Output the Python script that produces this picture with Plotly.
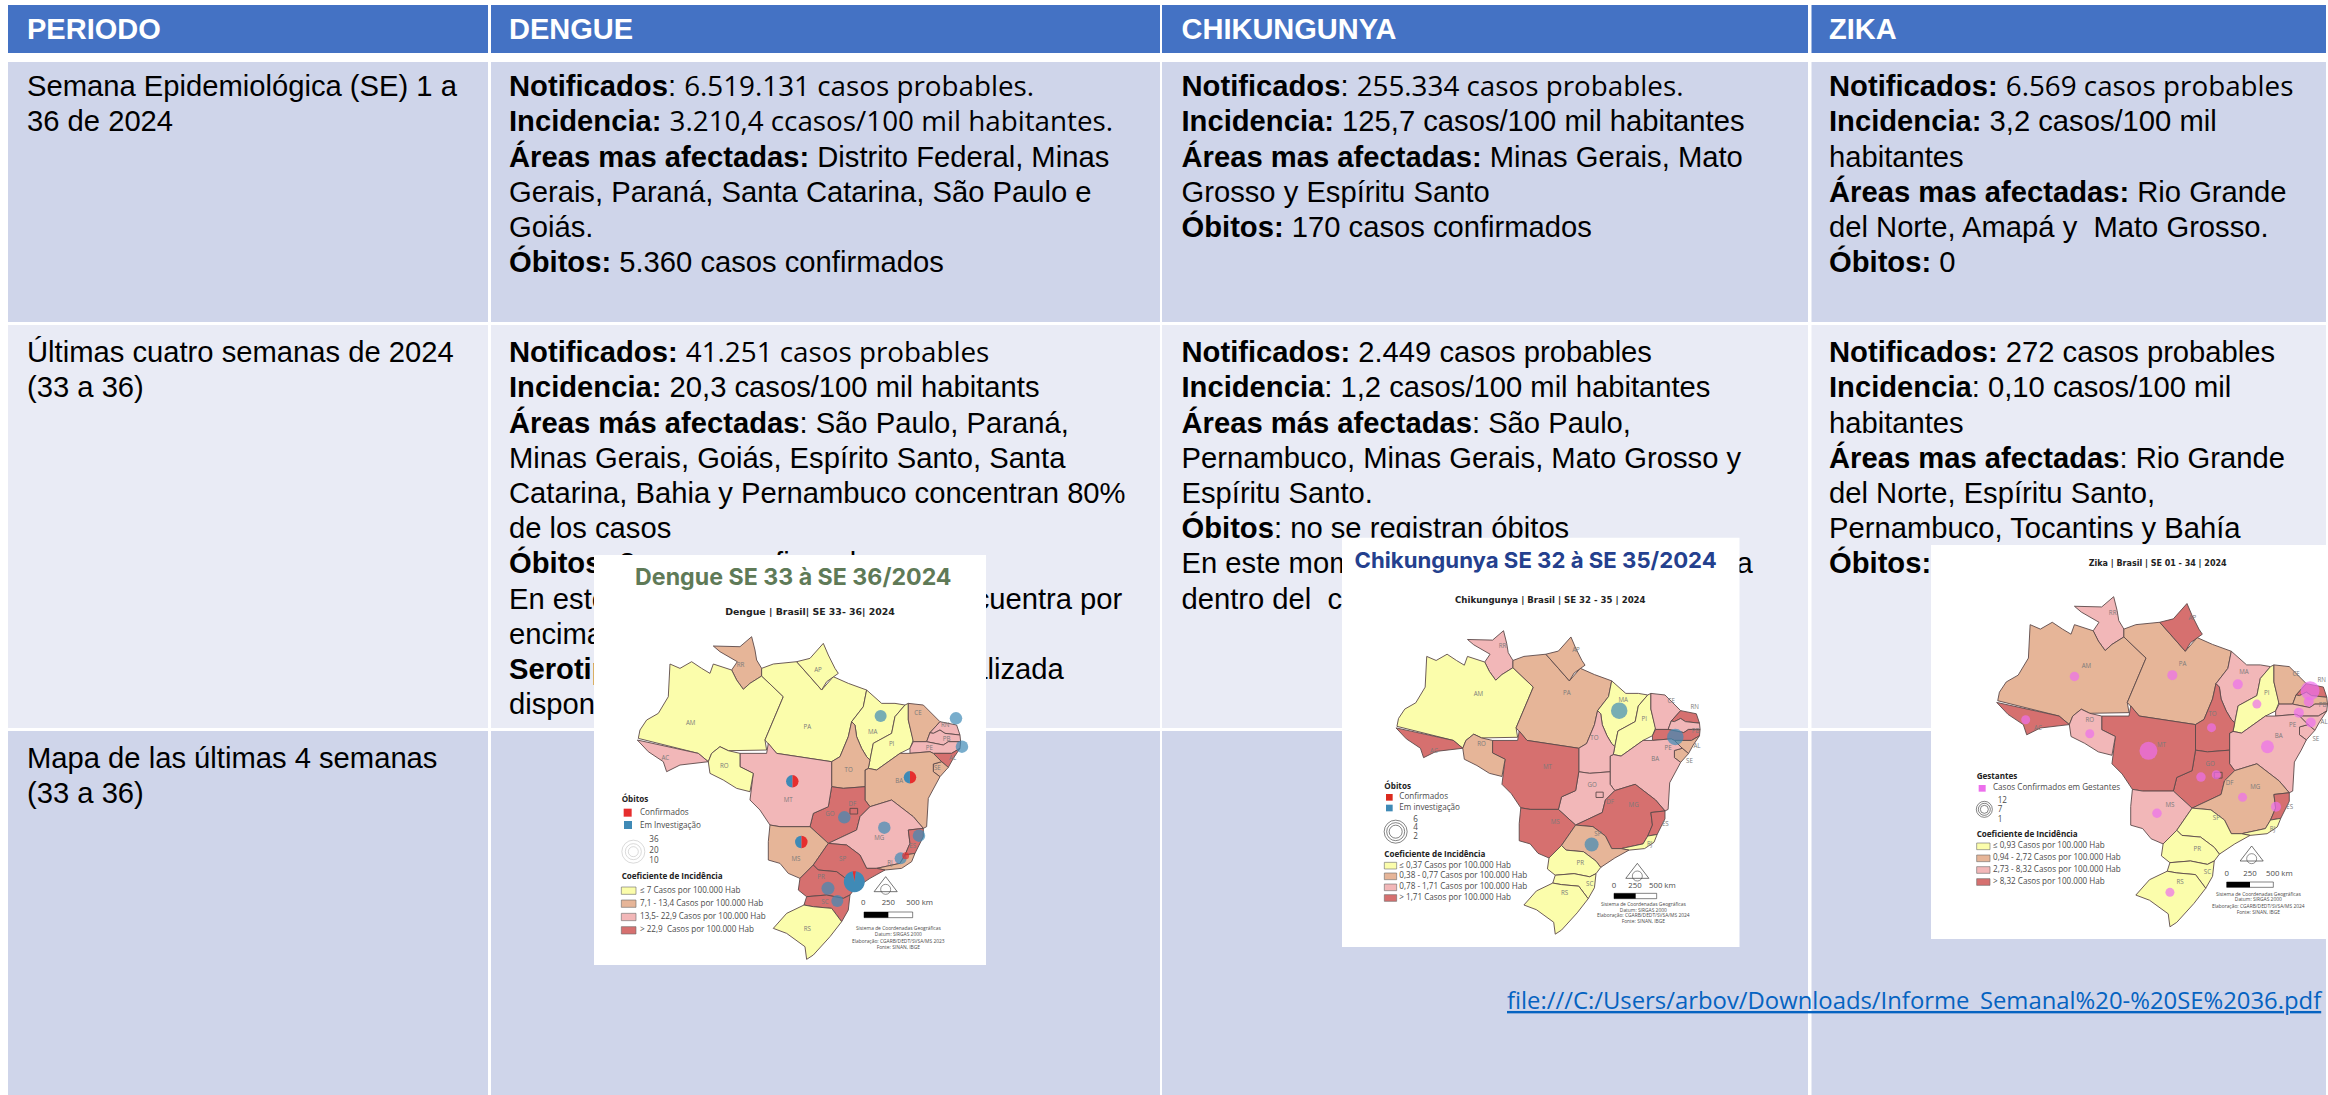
import plotly.graph_objects as go

W, H = 2328, 1095

# ---------- table ----------
COL_EDGES = [(8, 488), (491, 1160), (1162, 1808), (1811.5, 2326)]
COL_TEXT_X = [27, 509, 1181.5, 1829]
ROW_EDGES = [(5, 53), (62, 322), (325, 728), (731, 1095)]
ROW_COLORS = ["#4472C4", "#CFD5EA", "#E9EBF5", "#CFD5EA"]
ROW_FIRST_LINE = [32, 89, 355, 761]
LINE_PITCH = 35.2
BODY_SIZE = 29.2
HEAD_SIZE = 29

HEADERS = ["PERIODO", "DENGUE", "CHIKUNGUNYA", "ZIKA"]
NUM = "<span style=\"font-family:'Open Sans';font-size:27.8px\">%s</span>"

PERIOD_ROWS = [
    ["Semana Epidemiológica (SE) 1 a", "36 de 2024"],
    ["Últimas cuatro semanas de 2024", "(33 a 36)"],
    ["Mapa de las últimas 4 semanas", "(33 a 36)"],
]
DENGUE_ROWS = [
    ["<b>Notificados</b>: " + NUM % "6.519.131 casos probables.",
     "<b>Incidencia:</b> " + NUM % "3.210,4 ccasos/100 mil habitantes.",
     "<b>Áreas mas afectadas:</b> Distrito Federal, Minas",
     "Gerais, Paraná, Santa Catarina, São Paulo e",
     "Goiás.",
     "<b>Óbitos:</b> 5.360 casos confirmados"],
    ["<b>Notificados:</b> " + NUM % "41.251 casos probables",
     "<b>Incidencia:</b> 20,3 casos/100 mil habitants",
     "<b>Áreas más afectadas</b>: São Paulo, Paraná,",
     "Minas Gerais, Goiás, Espírito Santo, Santa",
     "Catarina, Bahia y Pernambuco concentran 80%",
     "de los casos",
     "<b>Óbitos:</b> 8 casos confirmados",
     "En este momento el indicador se encuentra por",
     "encima del canal endémico",
     "<b>Serotipos:</b> no hay información actualizada",
     "disponible"],
    [],
]
CHIK_ROWS = [
    ["<b>Notificados</b>: " + NUM % "255.334 casos probables.",
     "<b>Incidencia:</b> 125,7 casos/100 mil habitantes",
     "<b>Áreas mas afectadas:</b> Minas Gerais, Mato",
     "Grosso y Espíritu Santo",
     "<b>Óbitos:</b> 170 casos confirmados"],
    ["<b>Notificados:</b> 2.449 casos probables",
     "<b>Incidencia</b>: 1,2 casos/100 mil habitantes",
     "<b>Áreas más afectadas</b>: São Paulo,",
     "Pernambuco, Minas Gerais, Mato Grosso y",
     "Espíritu Santo.",
     "<b>Óbitos</b>: no se registran óbitos",
     "En este momento, el indicador se encuentra",
     "dentro del  canal endémico"],
    [],
]
ZIKA_ROWS = [
    ["<b>Notificados:</b> " + NUM % "6.569 casos probables",
     "<b>Incidencia:</b> 3,2 casos/100 mil",
     "habitantes",
     "<b>Áreas mas afectadas:</b> Rio Grande",
     "del Norte, Amapá y  Mato Grosso.",
     "<b>Óbitos:</b> 0"],
    ["<b>Notificados:</b> 272 casos probables",
     "<b>Incidencia</b>: 0,10 casos/100 mil",
     "habitantes",
     "<b>Áreas mas afectadas</b>: Rio Grande",
     "del Norte, Espíritu Santo,",
     "Pernambuco, Tocantins y Bahía",
     "<b>Óbitos:</b> 0"],
    [],
]
LINK_TEXT = "file:///C:/Users/arbov/Downloads/Informe_Semanal%20-%20SE%2036.pdf"

# ---------- maps: state outlines on a common map grid ----------
STATES = {
    "RR": [(515,290),(525,330),(530,360),(545,385),(545,408),(510,430),(490,448),(470,420),(455,390),(472,365),(420,335),(400,318),(480,320)],
    "AM": [(175,595),(180,570),(200,540),(235,520),(265,470),(270,372),(300,385),(335,365),(365,385),(390,400),(400,372),(455,390),(470,420),(490,448),(510,430),(545,408),(610,470),(555,600),(560,630),(445,632),(420,620),(395,640),(385,665),(355,640)],
    "PA": [(545,385),(580,372),(650,365),(690,410),(725,450),(760,410),(805,430),(860,450),(850,500),(815,545),(805,590),(780,650),(755,665),(590,640),(565,610),(555,600),(610,470),(545,408)],
    "AP": [(650,365),(690,355),(730,310),(745,345),(765,385),(775,400),(740,425),(725,450),(690,410)],
    "MA": [(860,450),(905,490),(945,490),(975,495),(945,530),(935,580),(880,610),(870,660),(860,650),(845,625),(830,590),(825,555),(815,545),(850,500)],
    "PI": [(975,495),(985,490),(985,540),(1000,600),(990,625),(960,640),(890,690),(865,685),(870,660),(880,610),(935,580),(945,530)],
    "CE": [(985,490),(1030,495),(1080,545),(1050,578),(1040,605),(1000,605),(985,540)],
    "RN": [(1080,545),(1130,555),(1140,585),(1095,580),(1080,570),(1060,580),(1050,578)],
    "PB": [(1060,580),(1080,570),(1095,580),(1140,585),(1142,605),(1105,605),(1090,615),(1045,605),(1040,605),(1050,578)],
    "PE": [(1000,605),(1040,605),(1090,615),(1105,605),(1142,605),(1140,625),(1115,640),(1085,640),(1060,640),(1050,635),(990,640),(990,625)],
    "AL": [(1060,640),(1085,640),(1115,640),(1140,625),(1120,655),(1105,682),(1085,665)],
    "SE": [(1060,672),(1085,665),(1105,682),(1080,710),(1060,695)],
    "BA": [(855,690),(865,685),(890,690),(960,640),(990,640),(1050,635),(1060,640),(1085,665),(1060,672),(1060,695),(1080,710),(1065,740),(1045,775),(1040,860),(1030,865),(1000,830),(935,780),(870,800),(855,780),(855,740)],
    "TO": [(815,545),(825,555),(830,590),(845,625),(860,650),(870,660),(865,685),(855,690),(855,740),(790,745),(755,740),(755,665),(780,650),(805,590)],
    "GO": [(755,740),(790,745),(855,740),(855,780),(870,800),(840,830),(830,870),(745,910),(690,860),(700,820),(745,800)],
    "MT": [(480,640),(560,640),(565,610),(590,640),(755,665),(755,740),(745,800),(700,820),(690,860),(600,860),(570,855),(540,810),(510,780),(520,700),(480,680)],
    "RO": [(385,665),(395,640),(420,620),(445,632),(480,640),(480,680),(520,700),(510,755),(470,745),(430,720),(390,700)],
    "AC": [(172,600),(355,640),(385,665),(330,672),(300,675),(260,695),(250,665),(205,635)],
    "MS": [(600,860),(690,860),(745,910),(700,975),(660,1015),(625,1000),(600,970),(565,960),(565,905),(570,855)],
    "MG": [(745,910),(830,870),(840,830),(870,800),(935,780),(1000,830),(1030,865),(985,870),(990,910),(975,945),(960,970),(890,985),(860,985),(840,945),(800,915)],
    "ES": [(985,870),(1030,865),(1030,890),(1005,940),(975,945),(990,910)],
    "RJ": [(960,970),(975,945),(1005,940),(995,965),(965,985),(915,990),(890,985)],
    "SP": [(700,975),(745,910),(800,915),(840,945),(860,985),(890,985),(915,990),(870,1015),(825,1045),(810,1025),(770,995),(715,990)],
    "PR": [(660,1015),(700,975),(715,990),(770,995),(810,1025),(825,1045),(810,1065),(790,1075),(740,1065),(680,1070),(655,1050)],
    "SC": [(680,1070),(740,1065),(790,1075),(810,1065),(805,1110),(785,1145),(755,1105),(700,1100),(672,1095)],
    "RS": [(672,1095),(700,1100),(755,1105),(785,1145),(750,1190),(700,1245),(680,1258),(675,1220),(620,1180),(580,1165),(620,1120)],
    "DF": [(810,805),(833,805),(833,822),(810,822)],
}
CLASS_COLORS = ["#FBFDAB", "#E6B598", "#F2B7B8", "#D6706F"]

DENGUE_CLASSES = {"AM":0,"PA":0,"AP":0,"MA":0,"PI":0,"RO":0,"RS":0,
                  "RR":1,"CE":1,"TO":1,"BA":1,"MS":1,"SE":1,"RJ":1,
                  "AC":2,"MT":2,"MG":2,"RN":2,"PB":2,"PE":2,
                  "GO":3,"DF":3,"SP":3,"PR":3,"SC":3,"AL":3,"ES":3}
CHIK_CLASSES = {"AM":0,"MA":0,"PI":0,"PR":0,"SC":0,"RS":0,"RJ":0,
                "PA":1,"AP":1,"RO":1,"SP":1,"SE":1,"AL":1,
                "RR":2,"TO":2,"GO":2,"BA":2,"CE":2,"PB":2,"DF":2,
                "AC":3,"MT":3,"MS":3,"MG":3,"ES":3,"RN":3,"PE":3}
ZIKA_CLASSES = {"PI":0,"SP":0,"PR":0,"SC":0,"RS":0,"RJ":0,
                "AM":1,"PA":1,"CE":1,"MG":1,"PB":1,
                "RR":2,"RO":2,"MA":2,"MS":2,"BA":2,"PE":2,"SE":2,"AL":2,
                "AP":3,"AC":3,"MT":3,"TO":3,"GO":3,"ES":3,"RN":3,"DF":3}

LABELS_A = {"RR":(482,376),"AP":(714,392),"AM":(332,550),"PA":(682,562),"MA":(878,576),"PI":(935,612),"CE":(1014,520),
            "RN":(1096,556),"PB":(1100,598),"PE":(1048,624),"AL":(1118,654),"SE":(1072,685),"BA":(958,725),"TO":(806,690),
            "MT":(625,780),"RO":(433,680),"AC":(256,655),"GO":(750,823),"DF":(817,793),"MS":(648,957),"MG":(898,895),
            "ES":(998,920),"RJ":(930,970),"SP":(788,957),"PR":(723,1011),"SC":(735,1088),"RS":(682,1167)}
LABELS_B = {"RR":(512,339),"AP":(746,354),"AM":(435,494),"PA":(717,490),"MA":(897,513),"PI":(964,574),"CE":(1050,517),
            "RN":(1125,535),"PB":(1128,610),"PE":(1040,667),"AL":(1132,659),"SE":(1108,708),"BA":(999,700),"TO":(805,635),
            "MT":(655,727),"RO":(445,654),"AC":(293,676),"GO":(798,783),"DF":(855,837),"MS":(680,903),"MG":(930,848),
            "ES":(1031,907),"RJ":(981,972),"SP":(816,940),"PR":(760,1032),"SC":(790,1098),"RS":(710,1127)}

DENGUE_CIRCLES = [(902,528,12),(1128,535,12.5),(1146,620,12.5),(913,863,12.5),(793,832,12.5),(1017,887,12.5),
                  (962,955,12),(744,1045,13),(772,1083,12)]
DENGUE_RED_DOTS = [(977,947,7)]
DENGUE_PIES = [(637,724,12.5,1,1,0),(990,712,12.5,1,1,0),(664,906,12.5,1,1,0),(823,1025,21,1,19,-9)]
CHIK_CIRCLES = [(884,545,16.5),(1063,629,16.5),(796,972,14)]
ZIKA_CIRCLES = [(400,524,9.5),(687,520,10),(879,547,10),(935,605,9),(257,651,9),(445,692,9),(617,742,18),(802,674,9),
                (771,819,9.5),(816,812,9),(966,730,13),(893,878,9),(642,925,9.5),(991,906,10),(680,1157,9),
                (1091,566,19),(1087,598,10),(1058,630,10),(1093,659,10)]

DENGUE_LEGEND = ["≤ 7 Casos por 100.000 Hab","7,1 - 13,4 Casos por 100.000 Hab","13,5- 22,9 Casos por 100.000 Hab","> 22,9  Casos por 100.000 Hab"]
CHIK_LEGEND = ["≤ 0,37 Casos por 100.000 Hab","0,38 - 0,77 Casos por 100.000 Hab","0,78 - 1,71 Casos por 100.000 Hab","> 1,71 Casos por 100.000 Hab"]
ZIKA_LEGEND = ["≤ 0,93 Casos por 100.000 Hab","0,94 - 2,72 Casos por 100.000 Hab","2,73 - 8,32 Casos por 100.000 Hab","> 8,32 Casos por 100.000 Hab"]
CREDITS = ["Sistema de Coordenadas Geográficas","Datum: SIRGAS 2000","Elaboração: CGARB/DEDT/SVSA/MS %s","Fonte: SINAN, IBGE"]
BLUE, RED, MAGENTA = "#3F8AB6", "#E62E2E", "#EC6FEC"
SANS = "Liberation Sans"
LEG = "Open Sans"
GREY = "#4A4A4A"

fig = go.Figure()

def text(x, y, s, size, color="#000000", family=SANS, pos="middle right"):
    fig.add_trace(go.Scatter(x=[x], y=[y], mode="text", text=[s], textposition=pos,
                             textfont=dict(size=size, color=color, family=family),
                             cliponaxis=False, showlegend=False, hoverinfo="skip"))

def poly(pts, fill, line=None, lw=0.0):
    xs = [p[0] for p in pts] + [pts[0][0]]
    ys = [p[1] for p in pts] + [pts[0][1]]
    fig.add_trace(go.Scatter(x=xs, y=ys, mode="lines", fill="toself", fillcolor=fill,
                             line=dict(color=line or fill, width=lw), showlegend=False, hoverinfo="skip"))

def rect(x0, y0, x1, y1, fill, line=None, lw=0.0):
    poly([(x0, y0), (x1, y0), (x1, y1), (x0, y1)], fill, line, lw)

def dots(xs, ys, sizes, color, symbol="circle", lw=0):
    fig.add_trace(go.Scatter(x=xs, y=ys, mode="markers", showlegend=False, hoverinfo="skip", cliponaxis=False,
                             marker=dict(size=sizes, color=color, symbol=symbol, line=dict(width=lw, color=color))))

# table cells
for (y0, y1), c in zip(ROW_EDGES, ROW_COLORS):
    for (x0, x1) in COL_EDGES:
        rect(x0, y0, x1, y1, c)

for h, x in zip(HEADERS, COL_TEXT_X):
    text(x, ROW_FIRST_LINE[0], "<b>%s</b>" % h, HEAD_SIZE, "#FFFFFF")

for col, rows in enumerate([PERIOD_ROWS, DENGUE_ROWS, CHIK_ROWS, ZIKA_ROWS]):
    for r, lines in enumerate(rows):
        for i, ln in enumerate(lines):
            text(COL_TEXT_X[col], ROW_FIRST_LINE[r + 1] + i * LINE_PITCH, ln, BODY_SIZE)

text(1507, 1003, "<u>%s</u>" % LINK_TEXT, 23.85, "#0563C1", "Open Sans")


def draw_map(panel, origin, k, zoom_origin, classes, labels):
    """panel: white rect in page px; origin: page px of grid point (172,290); k: px per grid unit."""
    rect(*panel, "#FFFFFF")
    gx = lambda u: origin[0] + (u - 172) * k
    gy = lambda v: origin[1] + (v - 290) * k
    for st, pts in STATES.items():
        poly([(gx(a), gy(b)) for a, b in pts], CLASS_COLORS[classes[st]], "#5C4A4A", 0.9)
    for st, (a, b) in labels.items():
        text(gx(a), gy(b), st, 6.2, "#7A7A7A", LEG, "middle center")
    return gx, gy, (lambda zx: zoom_origin[0] + zx / 3), (lambda zy: zoom_origin[1] + zy / 3)


def furniture(px, py, head, head_xy, sub, sub_xy, sub_size, coef_xy, sw, legend_xs, legend_ys, legend,
              circ_xy, circ_ds, circ_col, circ_labels, arrow, scale, year, credit_year):
    text(px(sub_xy[0]), py(sub_xy[1]), "<b>%s</b>" % sub, sub_size, "#222222", "DejaVu Sans", "middle center")
    if head:
        text(px(head_xy[0]), py(head_xy[1]), "<b>%s</b>" % head[0], head[1], head[2], "Inter", "middle center")
    text(px(coef_xy[0]), py(coef_xy[1]), "<b>Coeficiente de Incidência</b>", 8.1, "#222222", LEG)
    for c, lab, y in zip(CLASS_COLORS, legend, legend_ys):
        rect(px(sw[0]), py(y - sw[2]), px(sw[1]), py(y + sw[2]), c, "#6A6A6A", 0.6)
        text(px(legend_xs), py(y), lab, 8.1, GREY, LEG)
    dots([px(circ_xy[0])] * len(circ_ds), [py(circ_xy[1])] * len(circ_ds), circ_ds, circ_col, "circle-open", 0.8)
    for s, (a, b) in circ_labels:
        text(px(a), py(b), s, 8.1, GREY, LEG)
    dots([px(arrow[0])], [py(arrow[1])], [20], "#3A3A3A", "triangle-up-open", 1)
    dots([px(arrow[0])], [py(arrow[1] + 8)], [10], "#3A3A3A", "circle-open", 0.8)
    x0, xm, x1, yb0, yb1, lab_y, lx = scale
    rect(px(x0), py(yb0), px(x1), py(yb1), "#FFFFFF", "#333333", 0.6)
    rect(px(x0), py(yb0), px(xm), py(yb1), "#000000")
    for s, a in zip(["0", "250", "500 km"], lx):
        text(px(a), py(lab_y), s, 7.8, GREY, LEG, "middle center")
    cx, cy = year
    for c, y in zip(CREDITS, cy):
        text(px(cx), py(y), c % credit_year if "%s" in c else c, 4.9, GREY, LEG, "middle center")


# Dengue
gx, gy, px, py = draw_map((594, 555, 986, 965), (637.3, 636.7), 1 / 3, (580, 540), DENGUE_CLASSES, LABELS_A)
dots([gx(a) for a, _, _ in DENGUE_CIRCLES], [gy(b) for _, b, _ in DENGUE_CIRCLES], [d for *_, d in DENGUE_CIRCLES], BLUE)
dots([gx(a) for a, _, _ in DENGUE_RED_DOTS], [gy(b) for _, b, _ in DENGUE_RED_DOTS], [d for *_, d in DENGUE_RED_DOTS], RED)
for a, b, d, red, blue, rot in DENGUE_PIES:
    cx_, cy_ = gx(a), gy(b)
    fig.add_trace(go.Pie(values=[red, blue], marker=dict(colors=[RED, BLUE], line=dict(width=0)), sort=False,
                         rotation=rot, direction="clockwise", textinfo="none", showlegend=False, hoverinfo="skip",
                         domain=dict(x=[(cx_ - d / 2) / W, (cx_ + d / 2) / W], y=[1 - (cy_ + d / 2) / H, 1 - (cy_ - d / 2) / H])))
furniture(px, py, ("Dengue SE 33 à SE 36/2024", 23.2, "#5F7A57"), (640, 117),
          "Dengue | Brasil| SE 33- 36| 2024", (690, 218), 9.4, (125, 1012), (124, 168, 11), 180,
          [1052, 1091, 1131, 1171], DENGUE_LEGEND, (160, 935), [23, 16, 10], "#BDBDBD",
          [("36", (208, 900)), ("20", (208, 932)), ("10", (208, 963))], (917, 1040),
          (852, 925, 998, 1116, 1133, 1088, (850, 925, 1019)), (955, [1167, 1185, 1204, 1222]), "2023")
text(px(125), py(780), "<b>Óbitos</b>", 8.1, "#222222", LEG)
rect(px(131), py(806), px(155), py(830), RED)
rect(px(132), py(843), px(156), py(867), BLUE)
text(px(180), py(818), "Confirmados", 8.1, GREY, LEG)
text(px(180), py(858), "Em Investigação", 8.1, GREY, LEG)

# Chikungunya
gx, gy, px, py = draw_map((1342, 537.7, 1739.5, 947), (1396, 630.7), 0.3135, (1330, 540), CHIK_CLASSES, LABELS_B)
dots([gx(a) for a, _, _ in CHIK_CIRCLES], [gy(b) for _, b, _ in CHIK_CIRCLES], [d for *_, d in CHIK_CIRCLES], BLUE)
furniture(px, py, ("Chikungunya SE 32 à SE 35/2024", 22.2, "#24408E"), (617, 67),
          "Chikungunya | Brasil | SE 32 - 35 | 2024", (661, 184), 8.6, (163, 945), (163, 200, 10), 208,
          [977, 1009, 1042, 1074], CHIK_LEGEND, (197, 875), [23, 18, 13], "#222222",
          [("6", (250, 840)), ("4", (250, 865)), ("2", (250, 890))], (922, 1000),
          (852, 917, 980, 1060, 1076, 1038, (852, 915, 997)), (940, [1094, 1111, 1128, 1145]), "2024")
text(px(163), py(741), "<b>Óbitos</b>", 8.1, "#222222", LEG)
rect(px(168), py(762), px(188), py(782), "#DB2A1E")
rect(px(168), py(794), px(188), py(814), BLUE)
text(px(208), py(772), "Confirmados", 8.1, GREY, LEG)
text(px(208), py(804), "Em investigação", 8.1, GREY, LEG)

# Zika
gx, gy, px, py = draw_map((1931, 545, 2326, 939), (1996.7, 596.7), 0.341, (1900, 530), ZIKA_CLASSES, LABELS_B)
dots([gx(a) for a, _, _ in ZIKA_CIRCLES], [gy(b) for _, b, _ in ZIKA_CIRCLES], [d for *_, d in ZIKA_CIRCLES], MAGENTA)
furniture(px, py, None, None,
          "Zika | Brasil | SE 01 - 34 | 2024", (773, 103), 8.0, (230, 915), (230, 270, 10), 279,
          [949, 985, 1020, 1056], ZIKA_LEGEND, (253, 838), [16, 12, 8], "#222222",
          [("12", (293, 813)), ("7", (293, 841)), ("1", (293, 869))], (1055, 978),
          (980, 1050, 1120, 1056, 1072, 1032, (980, 1050, 1138)), (1075, [1093, 1110, 1129, 1147]), "2024")
text(px(230), py(740), "<b>Gestantes</b>", 8.1, "#222222", LEG)
rect(px(236), py(765), px(257), py(785), MAGENTA)
text(px(279), py(775), "Casos Confirmados em Gestantes", 8.1, GREY, LEG)

fig.update_layout(width=W, height=H, margin=dict(l=0, r=0, t=0, b=0), paper_bgcolor="#FFFFFF", plot_bgcolor="#FFFFFF",
                  xaxis=dict(range=[0, W], visible=False, fixedrange=True),
                  yaxis=dict(range=[H, 0], visible=False, fixedrange=True), showlegend=False)

fig.write_html("out.html", config=dict(displayModeBar=False),
               post_script="document.body.style.margin='0';document.body.style.overflow='hidden';")
